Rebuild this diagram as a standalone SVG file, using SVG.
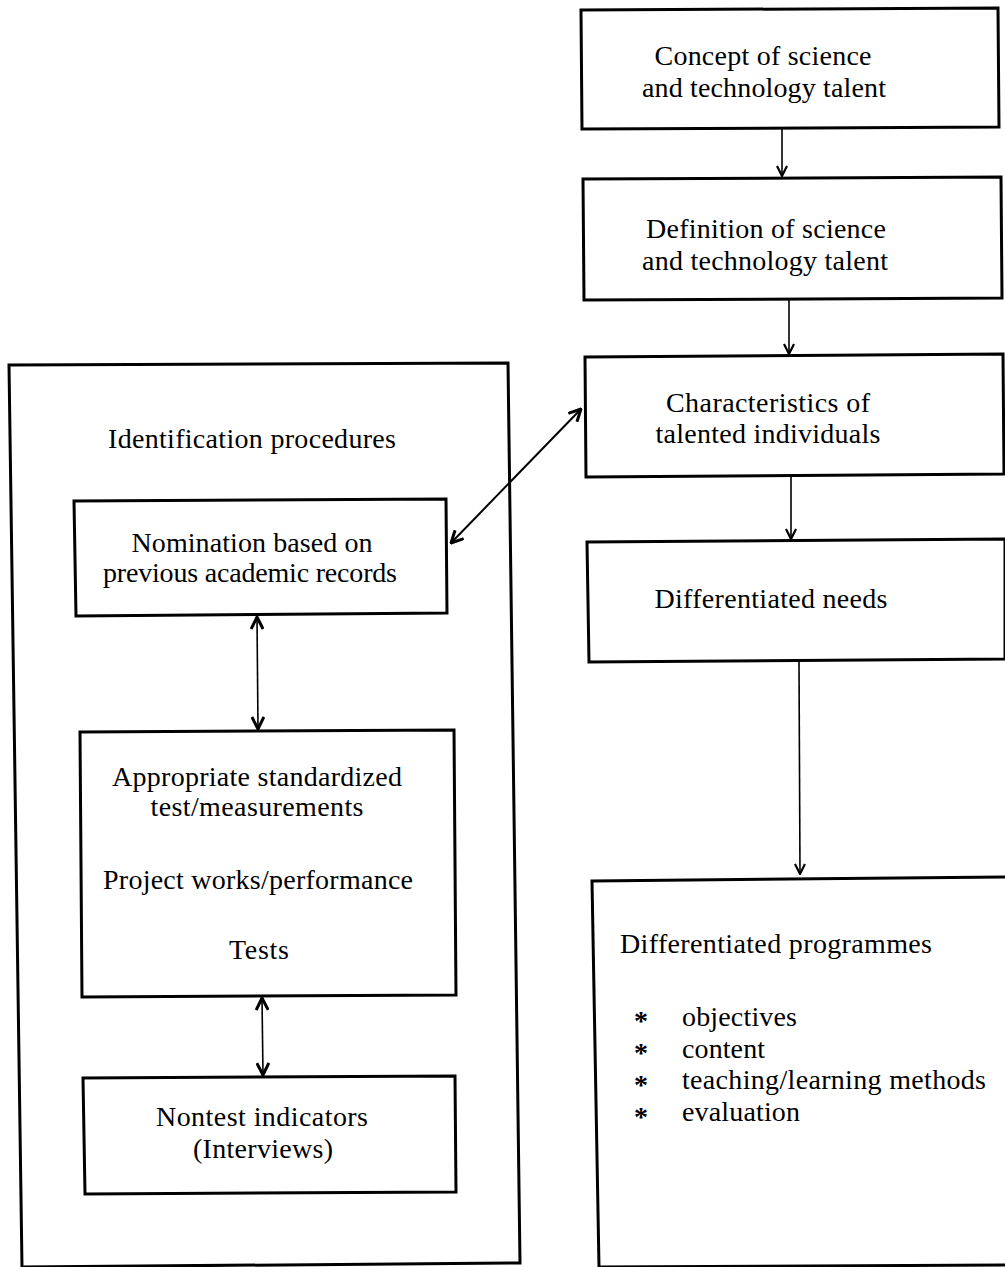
<svg xmlns="http://www.w3.org/2000/svg" width="1005" height="1267" viewBox="0 0 1005 1267">
<style>
.box{fill:none;stroke:#000;stroke-width:3;stroke-linejoin:miter}
.t{font-family:"Liberation Serif","Times New Roman",serif;font-size:28px;fill:#000}
.c{text-anchor:middle}
.star{font-weight:bold}
.ln{fill:none;stroke:#000;stroke-width:1.6}
.lb{fill:none;stroke:#000;stroke-width:2}
</style>
<defs>
<marker id="v" viewBox="0 0 12 12" refX="11" refY="6" markerWidth="12" markerHeight="12" markerUnits="userSpaceOnUse" orient="auto-start-reverse">
<path d="M1,1 L11,6 L1,11" fill="none" stroke="#000" stroke-width="2.2"/>
</marker>
<marker id="vb" viewBox="0 0 14 14" refX="13" refY="7" markerWidth="14" markerHeight="14" markerUnits="userSpaceOnUse" orient="auto-start-reverse">
<path d="M1,1 L13,7 L1,13" fill="none" stroke="#000" stroke-width="3"/>
</marker>
</defs>
<rect width="1005" height="1267" fill="#fff"/>

<g id="identification">
<polygon class="box" points="9,365 508,363 520,1263 22,1267"/>
<text class="t c" x="252" y="448" textLength="288">Identification procedures</text>
</g>

<g id="nomination">
<polygon class="box" points="74,501 446,499 447,613 76,616"/>
<text class="t c" x="252" y="552" textLength="241">Nomination based on</text>
<text class="t c" x="250" y="582" textLength="294">previous academic records</text>
</g>

<g id="tests">
<polygon class="box" points="80,732 454,730 456,995 82,997"/>
<text class="t c" x="257" y="786" textLength="290">Appropriate standardized</text>
<text class="t c" x="257" y="816" textLength="213">test/measurements</text>
<text class="t c" x="258" y="889" textLength="310">Project works/performance</text>
<text class="t c" x="259" y="959" textLength="60">Tests</text>
</g>

<g id="nontest">
<polygon class="box" points="83,1078 455,1076 456,1192 85,1194"/>
<text class="t c" x="262" y="1126" textLength="212">Nontest indicators</text>
<text class="t c" x="263" y="1158" textLength="140">(Interviews)</text>
</g>

<g id="concept">
<polygon class="box" points="581,10 998,8 999,127 582,129"/>
<text class="t c" x="763" y="65" textLength="217">Concept of science</text>
<text class="t c" x="764" y="97" textLength="244">and technology talent</text>
</g>

<g id="definition">
<polygon class="box" points="583,179 1001,177 1002,298 584,300"/>
<text class="t c" x="766" y="238" textLength="240">Definition of science</text>
<text class="t c" x="765" y="270" textLength="246">and technology talent</text>
</g>

<g id="characteristics">
<polygon class="box" points="585,357 1003,354 1004,474 586,477"/>
<text class="t c" x="768" y="412" textLength="204">Characteristics of</text>
<text class="t c" x="768" y="443" textLength="225">talented individuals</text>
</g>

<g id="needs">
<polygon class="box" points="587,542 1005,539 1005,659 589,662"/>
<text class="t c" x="771" y="608" textLength="233">Differentiated needs</text>
</g>

<g id="programmes">
<polygon class="box" points="592,881 1008,877 1008,1265 599,1267"/>
<text class="t" x="620" y="953" textLength="312">Differentiated programmes</text>
<text class="t star" x="634" y="1030">*</text>
<text class="t star" x="634" y="1062">*</text>
<text class="t star" x="634" y="1094">*</text>
<text class="t star" x="634" y="1126">*</text>
<text class="t" x="682" y="1026" textLength="115">objectives</text>
<text class="t" x="682" y="1058" textLength="83">content</text>
<text class="t" x="682" y="1089" textLength="304">teaching/learning methods</text>
<text class="t" x="682" y="1121" textLength="118">evaluation</text>
</g>

<g id="connectors">
<line class="ln" x1="782" y1="129" x2="782" y2="176" marker-end="url(#v)"/>
<line class="ln" x1="789" y1="300" x2="789" y2="354" marker-end="url(#v)"/>
<line class="ln" x1="791" y1="477" x2="791" y2="539" marker-end="url(#v)"/>
<line class="ln" x1="799" y1="662" x2="800" y2="874" marker-end="url(#v)"/>
<line class="lb" x1="451" y1="543" x2="581" y2="409" marker-start="url(#vb)" marker-end="url(#vb)"/>
<line class="ln" x1="257" y1="617" x2="258" y2="729" marker-start="url(#vb)" marker-end="url(#vb)"/>
<line class="ln" x1="262" y1="998" x2="263" y2="1075" marker-start="url(#vb)" marker-end="url(#vb)"/>
</g>
</svg>
